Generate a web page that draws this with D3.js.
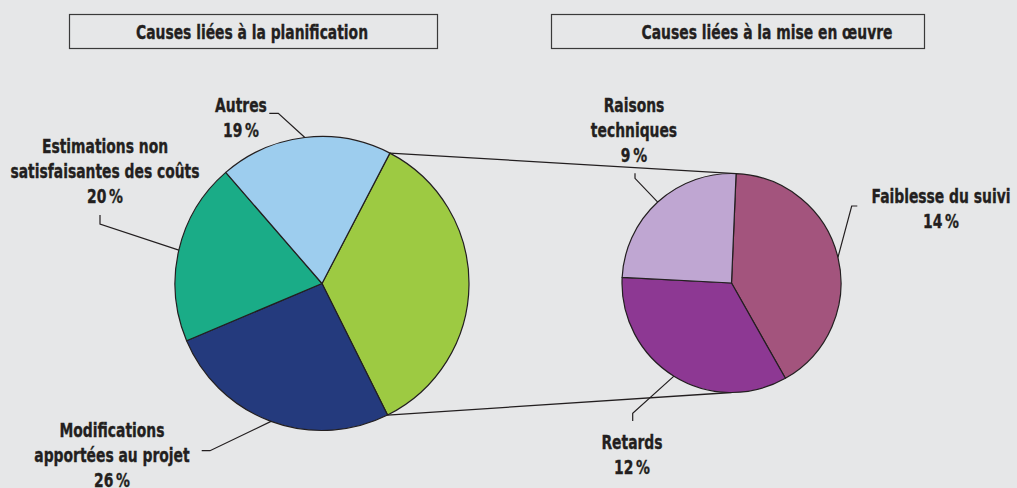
<!DOCTYPE html>
<html><head><meta charset="utf-8">
<script src="https://cdn.jsdelivr.net/npm/d3@7/dist/d3.min.js"></script>
<style>
html,body{margin:0;padding:0;background:#E6E7E8;}
svg{display:block;}
text{font-family:"Liberation Sans Narrow","Arial Narrow","DejaVu Sans Condensed","Roboto Condensed",sans-serif;font-weight:bold;fill:#231F20;stroke:#231F20;stroke-width:0.35px;}
</style></head>
<body>
<svg id="c" width="1017" height="488"></svg>
<script>
// ---- data ----
const panelTitles = ["Causes liées à la planification", "Causes liées à la mise en œuvre"];
const leftCategories = ["Causes liées à la mise en œuvre", "Modifications apportées au projet", "Estimations non satisfaisantes des coûts", "Autres"];
const leftValues = [35, 26, 20, 19];
const leftLabelLines = [null, ["Modifications", "apportées au projet", "26\u2009%"], ["Estimations non", "satisfaisantes des coûts", "20\u2009%"], ["Autres", "19\u2009%"]];
const rightCategories = ["Faiblesse du suivi", "Retards", "Raisons techniques"];
const rightValues = [14.4, 11.9, 8.7];
const rightLabelLines = [["Faiblesse du suivi", "14\u2009%"], ["Retards", "12\u2009%"], ["Raisons", "techniques", "9\u2009%"]];

// ---- styles ----
const leftColors = ["#9DCA42", "#243A7D", "#1AAC87", "#9DCDEE"];
const rightColors = ["#A3547D", "#8D3893", "#BFA6D2"];
const deg = Math.PI / 180;

const svg = d3.select("#c");
const W = 1017, H = 488;
svg.append("rect").attr("width", W).attr("height", H).attr("fill", "#E6E7E8");

const L = {cx: 322, cy: 283.5, r: 147, start: 27.5};
const R = {cx: 731.5, cy: 283, r: 109.5, start: 2.4};

const leftPie = d3.pie().sort(null).value(d => d).startAngle(L.start * deg).endAngle((L.start + 360) * deg);
const rightPie = d3.pie().sort(null).value(d => d).startAngle(R.start * deg).endAngle((R.start + 360) * deg);
const lArcs = leftPie(leftValues);
const rArcs = rightPie(rightValues);

function pt(p, a, rr) { return [p.cx + (rr ?? p.r) * Math.sin(a), p.cy - (rr ?? p.r) * Math.cos(a)]; }

// connector lines
const topA = pt(L, lArcs[0].startAngle), topB = pt(R, rArcs[0].startAngle);
const botA = pt(L, lArcs[0].endAngle), botB = pt(R, Math.PI);
svg.append("g").selectAll("line").data([[topA, topB], [botA, botB]]).join("line")
  .attr("x1", d => d[0][0]).attr("y1", d => d[0][1]).attr("x2", d => d[1][0]).attr("y2", d => d[1][1])
  .attr("stroke", "#231F20").attr("stroke-width", 1.3);

// pies
const lArc = d3.arc().innerRadius(0).outerRadius(L.r);
svg.append("g").attr("transform", `translate(${L.cx},${L.cy})`).selectAll("path").data(lArcs).join("path")
  .attr("d", lArc).attr("fill", (d, i) => leftColors[i]).attr("stroke", "#231F20").attr("stroke-width", 1.2).attr("stroke-linejoin", "round");
const rArc = d3.arc().innerRadius(0).outerRadius(R.r);
svg.append("g").attr("transform", `translate(${R.cx},${R.cy})`).selectAll("path").data(rArcs).join("path")
  .attr("d", rArc).attr("fill", (d, i) => rightColors[i]).attr("stroke", "#231F20").attr("stroke-width", 1.2).attr("stroke-linejoin", "round");

// title boxes
const boxes = [{x: 69, w: 368, tx: 252}, {x: 551, w: 373, tx: 767}];
const FS = 20;
boxes.forEach((b, i) => {
  svg.append("rect").attr("x", b.x + 0.5).attr("y", 14.5).attr("width", b.w).attr("height", 34)
    .attr("fill", "#E6E7E8").attr("stroke", "#3A3A3A").attr("stroke-width", 1.2);
  svg.append("text").attr("class", "t").attr("x", b.tx).attr("y", 39).attr("text-anchor", "middle")
    .attr("font-size", FS).text(panelTitles[i]);
});

// labels: layout (anchor centre x, first baseline, elbow start, elbow corner)
const labelLayout = {
  L1: {x: 112, y: 437, p0: [201.7, 450.7], p1: [210, 450.7]},
  L2: {x: 105, y: 153, p0: [100, 215], p1: [100, 224]},
  L3: {x: 241, y: 111.5, p0: [269.3, 113.3], p1: [278.3, 113.3]},
  R0: {x: 941, y: 202.5, p0: [857.3, 206], p1: [851.7, 206]},
  R1: {x: 632, y: 448.5, p0: [632.7, 421], p1: [632.7, 413.3]},
  R2: {x: 634, y: 111.5, p0: [635, 173.3], p1: [635, 178.3]}
};
const lh = 25.2;
const labels = [];
lArcs.forEach((a, i) => { if (leftLabelLines[i]) labels.push({key: "L" + i, lines: leftLabelLines[i], p: L, a: (a.startAngle + a.endAngle) / 2}); });
rArcs.forEach((a, i) => labels.push({key: "R" + i, lines: rightLabelLines[i], p: R, a: (a.startAngle + a.endAngle) / 2}));

const lg = svg.append("g");
labels.forEach(l => {
  const lay = labelLayout[l.key];
  const e = pt(l.p, l.a);
  lg.append("polyline").attr("points", [lay.p0, lay.p1, e].map(q => q.join(",")).join(" "))
    .attr("fill", "none").attr("stroke", "#231F20").attr("stroke-width", 1.2);
  const t = lg.append("text").attr("class", "t").attr("text-anchor", "middle").attr("font-size", FS);
  l.lines.forEach((s, j) => t.append("tspan").attr("x", lay.x).attr("y", lay.y + j * lh).text(s));
});

// horizontal condensation to mimic a condensed bold face
const probe = svg.append("text").attr("font-size", FS).text("satisfaisantes des coûts");
const k = 189 / probe.node().getComputedTextLength();
probe.remove();
svg.selectAll("text.t").each(function () {
  const spans = d3.select(this).selectAll("tspan");
  const targets = spans.size() ? spans.nodes() : [this];
  targets.forEach(n => {
    const w = n.getComputedTextLength();
    d3.select(n).attr("textLength", w * k).attr("lengthAdjust", "spacingAndGlyphs");
  });
});
</script>
</body></html>
